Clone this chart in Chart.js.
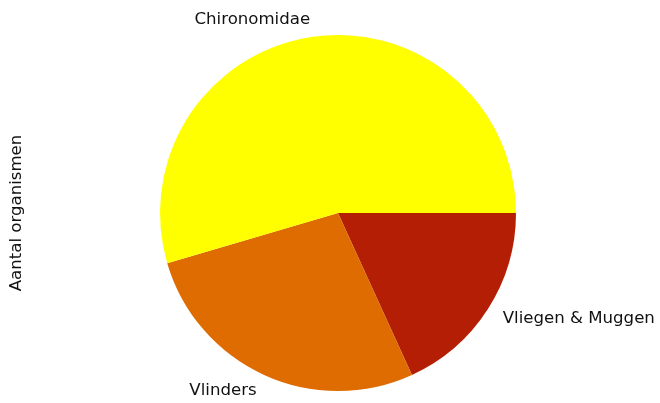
<!DOCTYPE html>
<html>
<head>
<meta charset="utf-8">
<script src="https://cdn.jsdelivr.net/npm/chart.js@4/dist/chart.umd.min.js"></script>
<style>
    html, body { margin: 0; padding: 0; background: #fff; }
    #wrap { width: 660px; height: 403px; }
</style>
</head>
<body>
<div id="wrap"><canvas id="pieChart"></canvas></div>
<script>
// volgorde met de klok mee vanaf 3 uur (matplotlib tekent tegen de klok in)
const categories = ['Vliegen & Muggen', 'Vlinders', 'Chironomidae'];
const counts = [2, 3, 6];
const sliceColors = ['#b41e04', '#de6c00', '#ffff00'];
const yLabel = 'Aantal organismen';

const FONT = '16.6px "DejaVu Sans", sans-serif';

// labels buiten de taart, op 1.1 x straal, zoals matplotlib
const outerLabels = {
    id: 'outerLabels',
    afterDatasetsDraw(chart) {
        const ctx = chart.ctx;
        const arcs = chart.getDatasetMeta(0).data;
        ctx.save();
        ctx.font = FONT;
        ctx.fillStyle = '#111';
        ctx.textBaseline = 'middle';
        arcs.forEach((arc, i) => {
            const mid = (arc.startAngle + arc.endAngle) / 2;
            const r = arc.outerRadius * 1.1;
            const x = arc.x + Math.cos(mid) * r;
            const y = arc.y + Math.sin(mid) * r;
            ctx.textAlign = Math.cos(mid) < 0 ? 'right' : 'left';
            ctx.fillText(categories[i], x, y);
        });
        ctx.restore();
    }
};

const axisTitle = {
    id: 'axisTitle',
    afterDraw(chart) {
        const ctx = chart.ctx;
        const area = chart.chartArea;
        ctx.save();
        ctx.font = FONT;
        ctx.fillStyle = '#111';
        ctx.textAlign = 'center';
        ctx.textBaseline = 'middle';
        ctx.translate(17, (area.top + area.bottom) / 2);
        ctx.rotate(-Math.PI / 2);
        ctx.fillText(yLabel, 0, 0);
        ctx.restore();
    }
};

new Chart(document.getElementById('pieChart').getContext('2d'), {
    type: 'pie',
    data: {
        labels: categories,
        datasets: [{
            data: counts,
            backgroundColor: sliceColors,
            borderWidth: 0
        }]
    },
    options: {
        responsive: true,
        maintainAspectRatio: false,
        animation: false,
        rotation: 90,
        layout: { padding: { left: 160, right: 144, top: 35, bottom: 12 } },
        plugins: {
            legend: { display: false },
            tooltip: { enabled: false }
        }
    },
    plugins: [outerLabels, axisTitle]
});
</script>
</body>
</html>
